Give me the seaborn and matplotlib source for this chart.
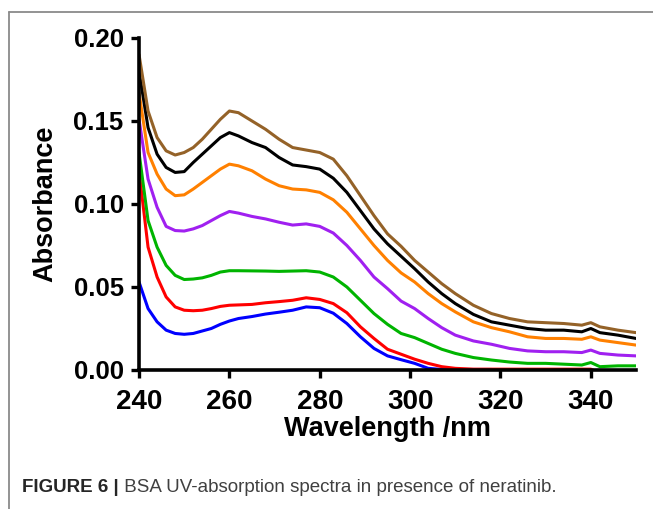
import pandas as pd
import matplotlib
matplotlib.use('Agg')
import matplotlib.pyplot as plt
from matplotlib.lines import Line2D
import seaborn as sns

# wavelengths (nm)
wavelength = [240, 242, 244, 246, 248, 250, 252, 254, 256, 258, 260, 262, 265, 268, 271,
              274, 277, 280, 283, 286, 289, 292, 295, 298, 301, 304, 307, 310, 314, 318,
              322, 326, 330, 334, 338, 340, 342, 346, 350]

# absorbance of each spectrum, top to bottom
brown = [0.190, 0.156, 0.140, 0.132, 0.1295, 0.131, 0.134, 0.139, 0.145, 0.151, 0.156, 0.155,
         0.150, 0.145, 0.139, 0.134, 0.1325, 0.131, 0.127, 0.117, 0.105, 0.093, 0.082, 0.0745,
         0.066, 0.059, 0.052, 0.046, 0.039, 0.034, 0.031, 0.029, 0.0285, 0.028, 0.027, 0.0285,
         0.026, 0.024, 0.0225]
black = [0.180, 0.146, 0.130, 0.122, 0.119, 0.1195, 0.125, 0.130, 0.135, 0.140, 0.143, 0.141,
         0.137, 0.134, 0.128, 0.1235, 0.1225, 0.121, 0.1155, 0.107, 0.096, 0.085, 0.076, 0.0685,
         0.061, 0.053, 0.046, 0.040, 0.0335, 0.029, 0.027, 0.025, 0.024, 0.024, 0.023, 0.025,
         0.0225, 0.021, 0.019]
orange = [0.167, 0.131, 0.118, 0.109, 0.105, 0.1055, 0.109, 0.113, 0.117, 0.121, 0.124, 0.123,
          0.120, 0.115, 0.111, 0.109, 0.1085, 0.107, 0.1025, 0.095, 0.085, 0.075, 0.066, 0.0585,
          0.053, 0.046, 0.040, 0.035, 0.029, 0.0255, 0.023, 0.020, 0.019, 0.019, 0.0185, 0.020,
          0.018, 0.0165, 0.015]
purple = [0.151, 0.115, 0.098, 0.0865, 0.084, 0.0837, 0.085, 0.087, 0.090, 0.093, 0.0955, 0.0945,
          0.0925, 0.091, 0.089, 0.0873, 0.088, 0.0865, 0.0825, 0.075, 0.066, 0.056, 0.049, 0.0415,
          0.037, 0.031, 0.0255, 0.021, 0.0175, 0.0155, 0.013, 0.0115, 0.011, 0.011, 0.0105, 0.012,
          0.010, 0.009, 0.0085]
green = [0.131, 0.090, 0.074, 0.063, 0.057, 0.0545, 0.0548, 0.0555, 0.057, 0.059, 0.0598, 0.0598,
         0.0597, 0.0596, 0.0594, 0.0596, 0.0598, 0.059, 0.056, 0.050, 0.042, 0.034, 0.0275, 0.022,
         0.0195, 0.016, 0.0125, 0.010, 0.0075, 0.006, 0.0048, 0.004, 0.004, 0.0035, 0.003, 0.0045,
         0.002, 0.0025, 0.0025]
red = [0.120, 0.074, 0.056, 0.044, 0.038, 0.036, 0.0357, 0.036, 0.037, 0.0383, 0.039, 0.0392,
       0.0395, 0.0405, 0.0412, 0.042, 0.0435, 0.0425, 0.040, 0.0345, 0.026, 0.019, 0.0125, 0.0095,
       0.0065, 0.004, 0.002, 0.001, 0.0005, 0.0005, 0.0005, 0.0005, 0.0005, 0.0005, 0.0005, 0.0005,
       -0.002, -0.003, -0.003]
blue = [0.053, 0.037, 0.029, 0.024, 0.022, 0.0215, 0.022, 0.0235, 0.025, 0.0275, 0.0295, 0.031,
        0.0322, 0.0337, 0.0348, 0.036, 0.038, 0.0375, 0.0342, 0.028, 0.020, 0.013, 0.0085, 0.0062,
        0.004, 0.001, 0.0003, 0.0003, 0.0003, 0.0003, -0.002, -0.003, -0.003, -0.003, -0.003,
        -0.003, -0.003, -0.003, -0.003]

series = {'blue': blue, 'red': red, 'green': green, 'purple': purple,
          'orange': orange, 'black': black, 'brown': brown}
colours = {'blue': '#0000ff', 'red': '#ff0000', 'green': '#00b400', 'purple': '#a020f0',
           'orange': '#ff8000', 'black': '#000000', 'brown': '#946228'}

# long table for seaborn
rows = []
for name, vals in series.items():
    for wl, a in zip(wavelength, vals):
        rows.append({'wavelength': wl, 'absorbance': a, 'series': name})
df = pd.DataFrame(rows)

sns.set_style('ticks')
plt.rcParams['font.family'] = ['Liberation Sans', 'DejaVu Sans']
plt.rcParams['text.color'] = 'black'
plt.rcParams['axes.labelcolor'] = 'black'
plt.rcParams['xtick.color'] = 'black'
plt.rcParams['ytick.color'] = 'black'

fig = plt.figure(figsize=(6.53, 5.09), dpi=100)
ax = fig.add_axes([0.2129, 0.2731, 0.7611, 0.6523])

sns.lineplot(data=df, x='wavelength', y='absorbance', hue='series',
             hue_order=list(series.keys()), palette=colours, linewidth=2.2,
             errorbar=None, sort=False, legend=False, ax=ax)

ax.set_xlim(240, 350)
ax.set_ylim(0, 0.20)
ax.set_xticks([240, 260, 280, 300, 320, 340])
ax.set_yticks([0.0, 0.05, 0.10, 0.15, 0.20])
ax.set_yticklabels(['%.2f' % v for v in [0.0, 0.05, 0.10, 0.15, 0.20]])
sns.despine(ax=ax)
for side in ['left', 'bottom']:
    ax.spines[side].set_linewidth(2.6)
    ax.spines[side].set_color('black')
ax.tick_params(axis='both', direction='out', length=6, width=2.4, color='black')
ax.tick_params(axis='x', labelsize=20, pad=7.5)
ax.tick_params(axis='y', labelsize=18.5, pad=5)
for lab in ax.get_xticklabels() + ax.get_yticklabels():
    lab.set_fontweight('bold')

ax.set_xlabel('Wavelength /nm', fontsize=19.5, fontweight='bold', labelpad=1)
ax.set_ylabel('Absorbance', fontsize=19.5, fontweight='bold')
ax.yaxis.set_label_coords(-0.162, 0.5)

# frame around the figure panel
fig.add_artist(Line2D([9 / 653, 1], [1 - 12 / 509, 1 - 12 / 509], transform=fig.transFigure,
                      color='#8a8a8a', lw=1.3))
fig.add_artist(Line2D([9 / 653, 9 / 653], [0, 1 - 12 / 509], transform=fig.transFigure,
                      color='#8a8a8a', lw=1.3))

# caption
t1 = fig.text(22 / 653, 1 - 488 / 509, 'FIGURE 6 |', fontsize=13.5, fontweight='bold',
              color='#262626', va='center', ha='left')
ax.annotate(' BSA UV-absorption spectra in presence of neratinib.', xy=(1, 0), xycoords=t1,
            va='bottom', ha='left', fontsize=13.5, color='#404040', annotation_clip=False)

fig.savefig('out.png', dpi=100)
